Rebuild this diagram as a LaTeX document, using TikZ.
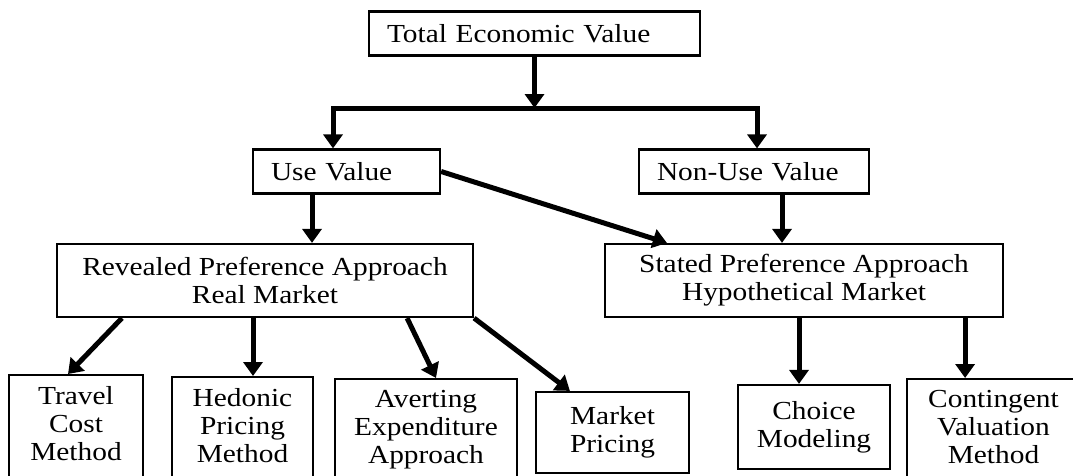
\documentclass[tikz,border=0pt]{standalone}
\usepackage{fontspec}
\setmainfont{Liberation Serif}[FakeStretch=1.13]
\usetikzlibrary{arrows.meta}

\tikzset{
  box/.style={draw, line width=2.2pt, inner sep=0pt, align=center},
  headbox/.style={box, text width=#1, align=left, inner xsep=18pt, minimum height=44pt},
  bigbox/.style={box, minimum width=#1, minimum height=73pt},
  leafbox/.style={box, minimum width=#1, anchor=north, inner ysep=11pt},
  arr/.style={line width=5pt, -{Triangle[width=19pt,length=14pt]}}
}
% boxes of the last row run off the bottom edge
\newcommand{\cutoff}{\rule[-30pt]{0pt}{30pt}}

\begin{document}
\begin{tikzpicture}[font=\fontsize{26}{28}\selectfont, x=1pt, y=-1pt]

\useasboundingbox (0,0) rectangle (1073,475);
\fill[white] (0,0) rectangle (1073,475);

\node [headbox=295pt](tev) at (534.5,33.5) {Total Economic Value};
\node [headbox=151pt](use) at (346.5,171.5) {Use Value};
\node [headbox=194pt](nonuse) at (754,171.5) {Non-Use Value};

\node [bigbox=416pt](rev) at (265,280.5) {Revealed Preference Approach\\Real Market};
\node [bigbox=398pt](stated) at (804,280.5) {Stated Preference Approach\\Hypothetical Market};

\node [leafbox=134pt](travel) at (76,374) {Travel\\Cost\\Method\cutoff};
\node [leafbox=141pt](hedonic) at (242.5,376) {Hedonic\\Pricing\\Method\cutoff};
\node [leafbox=182pt](averting) at (426,378) {Averting\\Expenditure\\Approach\cutoff};
\node [box,minimum width=153pt,minimum height=81pt](market) at (612.5,432.5) {Market\\Pricing};
\node [box,minimum width=152pt,minimum height=84pt](choice) at (814,427) {Choice\\Modeling};
\node [leafbox=173pt](contingent) at (993.5,378) {Contingent\\Valuation\\Method\cutoff};

\coordinate (barL) at (333,108);
\coordinate (barR) at (757,108);
\draw[line width=5pt,line cap=rect] (barL) -- (barR);

\begin{scope}[arr]
\draw (tev.south) -- (tev.south |- barL);
\draw (barL) -- (barL |- use.north);
\draw (barR) -- (barR |- nonuse.north);

\draw ([xshift=-34.5pt]use.south) -- ([xshift=-34.5pt]use.south |- rev.north);
\draw (use.east) -- ([xshift=63pt]stated.north west);
\draw ([xshift=28pt]nonuse.south) -- ([xshift=28pt]nonuse.south |- stated.north);

\draw ([xshift=66pt]rev.south west) -- ([xshift=-8pt]travel.north);
\draw ([xshift=10.5pt]hedonic.north |- rev.south) -- ([xshift=10.5pt]hedonic.north);
\draw ([xshift=-67pt]rev.south east) -- ([xshift=10pt]averting.north);
\draw (rev.south east) -- ([xshift=35pt]market.north west);

\draw ([xshift=-15pt]choice.north |- stated.south) -- ([xshift=-15pt]choice.north);
\draw ([xshift=-39pt]stated.south east) -- ([xshift=-39pt]stated.south east |- contingent.north);
\end{scope}

\end{tikzpicture}
\end{document}
